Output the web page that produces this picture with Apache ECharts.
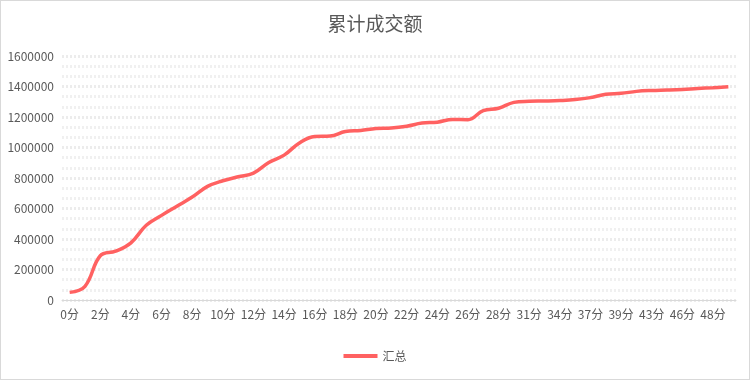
<!DOCTYPE html>
<html><head><meta charset="utf-8">
<script src="https://cdn.jsdelivr.net/npm/echarts@6/dist/echarts.min.js"></script>
<style>
html,body{margin:0;padding:0;background:#fff;}
#c{width:750px;height:380px;box-sizing:border-box;border:1px solid #d9d9d9;}
</style></head><body>
<div id="c"></div>
<script>
const titleText = '累计成交额';
const seriesName = '汇总';
const minutes = [0,1,2,3,4,5,6,7,8,9,10,11,12,13,14,15,16,17,18,19,20,21,22,23,24,25,26,27,28,30,31,32,34,35,37,38,39,41,43,45,46,47,48,49];
const categories = minutes.map(m => m + '分');
const values = [50000,90000,290000,320000,375000,490000,555000,615000,675000,745000,782000,808000,832000,902000,950000,1030000,1072000,1075000,1105000,1112000,1125000,1128000,1140000,1160000,1166000,1184000,1182000,1242000,1257000,1296000,1303000,1305000,1308000,1314000,1327000,1349000,1355000,1368000,1374000,1377000,1381000,1387000,1392000,1398000];
const yTicks = {min: 0, max: 1600000, interval: 200000};

const chart = echarts.init(document.getElementById('c'), null, {renderer: 'canvas'});
const font = '"Noto Sans CJK SC", "Noto Sans", sans-serif';
chart.setOption({
  animation: false,
  backgroundColor: '#fff',
  title: {text: titleText, left: 'center', top: 8, textStyle: {fontFamily: font, fontSize: 19, fontWeight: 'normal', color: '#595959'}},
  legend: {bottom: 12, left: 'center', itemWidth: 34, itemHeight: 4, icon: 'rect', textStyle: {fontFamily: font, fontSize: 12, color: '#595959'}, data: [seriesName]},
  grid: {left: 61, right: 13, top: 55, bottom: 79},
  xAxis: {
    type: 'category', data: categories, boundaryGap: true,
    axisLine: {lineStyle: {color: '#d9d9d9'}},
    axisTick: {interval: 0, length: 5, lineStyle: {color: '#d9d9d9'}},
    axisLabel: {interval: 1, color: '#595959', fontFamily: font, fontSize: 12, margin: 8},
    splitLine: {show: false}
  },
  yAxis: {
    type: 'value', min: yTicks.min, max: yTicks.max, interval: yTicks.interval,
    axisLine: {show: false}, axisTick: {show: false},
    axisLabel: {color: '#595959', fontFamily: font, fontSize: 12, margin: 8, formatter: v => String(v)},
    splitLine: {lineStyle: {color: '#ececec', width: 3, type: [2, 2]}},
    minorTick: {show: false, splitNumber: 3},
    minorSplitLine: {show: true, lineStyle: {color: '#f0f0f0', width: 3, type: [2, 2]}}
  },
  series: [{
    name: seriesName, type: 'line', data: values, smooth: 0.4, showSymbol: false,
    lineStyle: {color: '#ff6161', width: 3.5}, itemStyle: {color: '#ff6161'}
  }]
});
</script>
</body></html>
